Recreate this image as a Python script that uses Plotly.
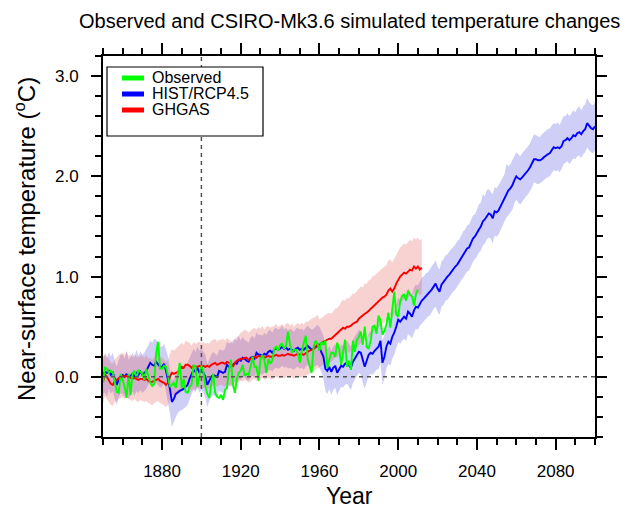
import plotly.graph_objects as go

# ---------------- data ----------------
years_hist = list(range(1850, 2101))   # HIST/RCP4.5
years_ghg = list(range(1850, 2013))    # GHGAS
years_obs = list(range(1850, 2011))    # Observed

series_names = ["Observed", "HIST/RCP4.5", "GHGAS"]

obs = [
    -0.06, 0.09, 0.08, 0.04, 0.06, 0.04, -0.05, -0.15, -0.16, 0.03,
    -0.03, -0.10, -0.21, 0.03, -0.18, 0.03, 0.06, -0.01, 0.07, 0.05,
    0.03, -0.03, 0.08, 0.01, -0.06, -0.09, -0.07, 0.24, 0.35, 0.08,
    0.08, 0.11, 0.10, 0.01, -0.10, -0.08, -0.06, -0.11, 0.00, 0.14,
    -0.11, -0.02, -0.15, -0.16, -0.10, -0.08, 0.12, 0.10, -0.10, 0.02,
    0.11, 0.05, -0.09, -0.17, -0.21, -0.07, 0.03, -0.16, -0.20, -0.21,
    -0.18, -0.23, -0.13, -0.11, 0.07, 0.17, -0.07, -0.16, -0.02, 0.04,
    0.06, 0.12, 0.01, 0.03, 0.02, 0.10, 0.20, 0.10, 0.10, -0.04,
    0.17, 0.22, 0.17, 0.04, 0.18, 0.13, 0.16, 0.28, 0.30, 0.26,
    0.32, 0.33, 0.28, 0.31, 0.45, 0.33, 0.24, 0.27, 0.27, 0.24,
    0.14, 0.26, 0.34, 0.41, 0.18, 0.12, 0.04, 0.30, 0.36, 0.33,
    0.26, 0.35, 0.32, 0.36, 0.09, 0.17, 0.24, 0.24, 0.20, 0.34,
    0.28, 0.12, 0.25, 0.37, 0.10, 0.16, 0.07, 0.36, 0.25, 0.37,
    0.40, 0.45, 0.32, 0.50, 0.30, 0.28, 0.36, 0.50, 0.51, 0.43,
    0.61, 0.56, 0.42, 0.46, 0.52, 0.64, 0.49, 0.70, 0.85, 0.62,
    0.60, 0.75, 0.81, 0.82, 0.76, 0.86, 0.82, 0.80, 0.71, 0.82,
    0.87,
]

hist_mean = [
    0.03, 0.05, 0.04, 0.06, 0.02, 0.04, -0.02, -0.08, -0.03, 0.01,
    0.02, 0.00, 0.03, -0.01, 0.01, 0.03, 0.00, 0.04, 0.02, 0.05,
    0.02, 0.04, 0.06, 0.10, 0.14, 0.12, 0.11, 0.15, 0.12, 0.10,
    0.10, 0.13, 0.06, -0.02, -0.12, -0.25, -0.22, -0.17, -0.15, -0.14,
    -0.13, -0.12, -0.10, -0.08, -0.02, 0.03, 0.07, 0.05, 0.09, 0.04,
    0.07, 0.04, 0.00, -0.08, -0.03, 0.00, 0.02, 0.01, 0.00, 0.06,
    0.05, 0.04, 0.05, 0.12, 0.10, 0.11, 0.12, 0.14, 0.13, 0.17,
    0.16, 0.19, 0.18, 0.16, 0.15, 0.19, 0.20, 0.18, 0.24, 0.22,
    0.22, 0.21, 0.23, 0.22, 0.25, 0.26, 0.24, 0.27, 0.28, 0.27,
    0.28, 0.30, 0.28, 0.29, 0.27, 0.28, 0.27, 0.26, 0.28, 0.29,
    0.27, 0.28, 0.27, 0.29, 0.31, 0.29, 0.27, 0.28, 0.30, 0.31,
    0.29, 0.25, 0.20, 0.08, 0.06, 0.10, 0.05, 0.09, 0.11, 0.04,
    0.07, 0.11, 0.10, 0.13, 0.14, 0.12, 0.09, 0.15, 0.18, 0.22,
    0.25, 0.24, 0.16, 0.10, 0.16, 0.22, 0.24, 0.23, 0.26, 0.28,
    0.30, 0.36, 0.14, 0.20, 0.30, 0.35, 0.33, 0.40, 0.44, 0.50,
    0.57, 0.55, 0.58, 0.60, 0.58, 0.65, 0.63, 0.60, 0.66, 0.70,
    0.69, 0.73, 0.76, 0.78, 0.80, 0.82, 0.84, 0.87, 0.90, 0.93,
    0.88, 0.85, 0.92, 0.95, 0.98, 1.00, 1.02, 1.05, 1.07, 1.10,
    1.12, 1.15, 1.18, 1.22, 1.25, 1.28, 1.29, 1.33, 1.38, 1.40,
    1.44, 1.47, 1.50, 1.55, 1.57, 1.60, 1.63, 1.62, 1.58, 1.65,
    1.64, 1.66, 1.70, 1.74, 1.78, 1.83, 1.86, 1.88, 1.91, 1.96,
    2.00, 1.98, 1.97, 1.99, 2.01, 2.03, 2.06, 2.09, 2.13, 2.17,
    2.17, 2.16, 2.16, 2.17, 2.19, 2.21, 2.22, 2.23, 2.26, 2.29,
    2.28, 2.29, 2.28, 2.30, 2.35, 2.36, 2.38, 2.36, 2.38, 2.41,
    2.40, 2.43, 2.44, 2.42, 2.45, 2.47, 2.53, 2.50, 2.48, 2.47,
    2.50,
]

hist_upper = [
    0.20, 0.22, 0.18, 0.25, 0.20, 0.24, 0.15, 0.10, 0.17, 0.22,
    0.22, 0.18, 0.26, 0.17, 0.20, 0.24, 0.19, 0.27, 0.21, 0.25,
    0.22, 0.24, 0.28, 0.31, 0.36, 0.34, 0.38, 0.37, 0.33, 0.30,
    0.30, 0.33, 0.27, 0.20, 0.08, -0.04, -0.02, 0.04, 0.05, 0.07,
    0.08, 0.10, 0.12, 0.14, 0.19, 0.24, 0.28, 0.25, 0.30, 0.26,
    0.28, 0.25, 0.22, 0.13, 0.18, 0.22, 0.25, 0.23, 0.21, 0.27,
    0.27, 0.26, 0.28, 0.35, 0.33, 0.34, 0.36, 0.38, 0.36, 0.41,
    0.36, 0.40, 0.37, 0.35, 0.34, 0.39, 0.41, 0.38, 0.44, 0.42,
    0.42, 0.41, 0.44, 0.42, 0.46, 0.47, 0.44, 0.48, 0.49, 0.47,
    0.48, 0.51, 0.47, 0.49, 0.46, 0.48, 0.47, 0.45, 0.48, 0.49,
    0.47, 0.48, 0.46, 0.49, 0.51, 0.49, 0.47, 0.48, 0.50, 0.52,
    0.50, 0.46, 0.41, 0.30, 0.27, 0.31, 0.26, 0.30, 0.33, 0.25,
    0.28, 0.32, 0.31, 0.35, 0.36, 0.33, 0.30, 0.37, 0.40, 0.44,
    0.47, 0.45, 0.37, 0.31, 0.37, 0.43, 0.46, 0.44, 0.48, 0.50,
    0.52, 0.58, 0.36, 0.42, 0.52, 0.57, 0.55, 0.62, 0.66, 0.72,
    0.79, 0.77, 0.81, 0.82, 0.80, 0.88, 0.85, 0.82, 0.89, 0.92,
    0.91, 0.95, 0.99, 1.00, 1.03, 1.04, 1.07, 1.09, 1.13, 1.16,
    1.10, 1.07, 1.15, 1.17, 1.21, 1.22, 1.25, 1.27, 1.30, 1.32,
    1.35, 1.37, 1.41, 1.45, 1.47, 1.51, 1.52, 1.56, 1.61, 1.62,
    1.67, 1.72, 1.74, 1.82, 1.80, 1.86, 1.87, 1.85, 1.82, 1.89,
    1.88, 1.91, 1.95, 1.98, 2.02, 2.12, 2.10, 2.12, 2.16, 2.20,
    2.24, 2.22, 2.20, 2.23, 2.25, 2.27, 2.30, 2.33, 2.37, 2.42,
    2.41, 2.40, 2.39, 2.42, 2.44, 2.45, 2.47, 2.48, 2.51, 2.53,
    2.52, 2.54, 2.51, 2.55, 2.60, 2.60, 2.63, 2.60, 2.63, 2.66,
    2.64, 2.68, 2.70, 2.66, 2.70, 2.72, 2.78, 2.74, 2.72, 2.71,
    2.74,
]

hist_lower = [
    -0.18, -0.15, -0.20, -0.12, -0.17, -0.14, -0.22, -0.28, -0.20, -0.16,
    -0.17, -0.20, -0.15, -0.22, -0.18, -0.15, -0.19, -0.14, -0.16, -0.13,
    -0.16, -0.14, -0.12, -0.08, -0.05, -0.08, -0.10, -0.06, -0.09, -0.11,
    -0.10, -0.06, -0.15, -0.24, -0.36, -0.50, -0.45, -0.40, -0.36, -0.34,
    -0.33, -0.32, -0.30, -0.28, -0.22, -0.17, -0.13, -0.15, -0.10, -0.16,
    -0.13, -0.16, -0.21, -0.30, -0.24, -0.20, -0.18, -0.19, -0.20, -0.14,
    -0.15, -0.16, -0.14, -0.08, -0.10, -0.09, -0.07, -0.05, -0.07, -0.03,
    -0.03, 0.00, -0.01, -0.03, -0.04, 0.00, 0.01, -0.01, 0.05, 0.03,
    0.03, 0.02, 0.04, 0.03, 0.06, 0.07, 0.05, 0.08, 0.09, 0.08,
    0.09, 0.11, 0.09, 0.10, 0.08, 0.09, 0.08, 0.07, 0.09, 0.10,
    0.08, 0.09, 0.07, 0.10, 0.12, 0.10, 0.08, 0.09, 0.11, 0.12,
    0.09, 0.05, -0.02, -0.14, -0.17, -0.12, -0.18, -0.13, -0.11, -0.18,
    -0.15, -0.10, -0.11, -0.08, -0.07, -0.10, -0.13, -0.06, -0.03, 0.01,
    0.04, 0.02, -0.06, -0.12, -0.05, 0.01, 0.03, 0.02, 0.05, 0.07,
    0.08, 0.14, -0.08, -0.02, 0.08, 0.13, 0.11, 0.18, 0.22, 0.28,
    0.35, 0.33, 0.36, 0.38, 0.36, 0.43, 0.41, 0.38, 0.44, 0.48,
    0.47, 0.51, 0.54, 0.55, 0.58, 0.60, 0.61, 0.65, 0.68, 0.70,
    0.65, 0.62, 0.70, 0.72, 0.76, 0.77, 0.80, 0.82, 0.85, 0.87,
    0.89, 0.92, 0.95, 0.99, 1.02, 1.05, 1.06, 1.10, 1.15, 1.17,
    1.20, 1.24, 1.26, 1.31, 1.33, 1.37, 1.39, 1.38, 1.33, 1.41,
    1.40, 1.42, 1.46, 1.50, 1.55, 1.59, 1.62, 1.64, 1.67, 1.73,
    1.77, 1.74, 1.72, 1.75, 1.77, 1.80, 1.82, 1.85, 1.89, 1.94,
    1.93, 1.92, 1.93, 1.94, 1.96, 1.98, 1.99, 2.00, 2.03, 2.06,
    2.05, 2.06, 2.04, 2.07, 2.12, 2.13, 2.15, 2.12, 2.15, 2.18,
    2.17, 2.20, 2.21, 2.18, 2.22, 2.24, 2.29, 2.26, 2.24, 2.23,
    2.26,
]

ghg_mean = [
    -0.05, 0.02, 0.00, -0.04, -0.07, -0.08, -0.04, -0.03, -0.01, 0.00,
    0.01, 0.00, 0.01, 0.00, -0.01, -0.02, -0.01, -0.02, -0.03, -0.02,
    -0.02, -0.03, -0.02, -0.04, -0.05, -0.05, -0.04, -0.03, -0.02, -0.04,
    -0.05, -0.06, -0.08, -0.06, 0.00, 0.04, 0.03, 0.04, 0.05, 0.07,
    0.10, 0.09, 0.12, 0.12, 0.11, 0.09, 0.11, 0.10, 0.10, 0.11,
    0.10, 0.11, 0.10, 0.11, 0.10, 0.12, 0.13, 0.14, 0.12, 0.13,
    0.14, 0.14, 0.13, 0.15, 0.14, 0.13, 0.10, 0.14, 0.16, 0.17,
    0.18, 0.18, 0.19, 0.19, 0.17, 0.18, 0.19, 0.20, 0.19, 0.21,
    0.20, 0.21, 0.19, 0.20, 0.21, 0.20, 0.20, 0.21, 0.22, 0.21,
    0.21, 0.22, 0.21, 0.22, 0.23, 0.22, 0.22, 0.21, 0.22, 0.23,
    0.22, 0.23, 0.22, 0.24, 0.25, 0.26, 0.27, 0.28, 0.30, 0.32,
    0.32, 0.34, 0.35, 0.36, 0.37, 0.38, 0.38, 0.40, 0.42, 0.43,
    0.45, 0.47, 0.49, 0.48, 0.50, 0.50, 0.51, 0.53, 0.54, 0.55,
    0.58, 0.60, 0.61, 0.63, 0.64, 0.66, 0.67, 0.70, 0.72, 0.73,
    0.76, 0.77, 0.79, 0.80, 0.82, 0.86, 0.88, 0.85, 0.88, 0.93,
    0.97, 1.00, 1.02, 1.04, 1.03, 1.05, 1.07, 1.06, 1.10, 1.08,
    1.10, 1.07, 1.09,
]

ghg_upper = [
    0.16, 0.24, 0.21, 0.18, 0.14, 0.13, 0.18, 0.19, 0.22, 0.23,
    0.24, 0.22, 0.25, 0.21, 0.22, 0.19, 0.23, 0.20, 0.19, 0.21,
    0.21, 0.19, 0.22, 0.18, 0.19, 0.17, 0.20, 0.22, 0.24, 0.20,
    0.19, 0.17, 0.15, 0.17, 0.23, 0.28, 0.26, 0.28, 0.29, 0.31,
    0.34, 0.32, 0.36, 0.35, 0.34, 0.31, 0.35, 0.33, 0.34, 0.35,
    0.33, 0.35, 0.33, 0.34, 0.33, 0.36, 0.37, 0.38, 0.35, 0.37,
    0.37, 0.38, 0.36, 0.39, 0.37, 0.36, 0.33, 0.38, 0.40, 0.41,
    0.44, 0.46, 0.47, 0.46, 0.44, 0.46, 0.48, 0.49, 0.47, 0.50,
    0.48, 0.51, 0.47, 0.50, 0.51, 0.49, 0.50, 0.51, 0.53, 0.50,
    0.51, 0.53, 0.50, 0.53, 0.54, 0.51, 0.53, 0.50, 0.52, 0.54,
    0.52, 0.54, 0.52, 0.55, 0.55, 0.57, 0.58, 0.59, 0.60, 0.62,
    0.57, 0.59, 0.60, 0.62, 0.63, 0.64, 0.63, 0.66, 0.68, 0.69,
    0.71, 0.75, 0.77, 0.76, 0.79, 0.78, 0.80, 0.83, 0.83, 0.85,
    0.87, 0.90, 0.89, 0.93, 0.93, 0.96, 0.97, 1.00, 1.01, 1.03,
    1.05, 1.07, 1.08, 1.10, 1.11, 1.16, 1.17, 1.14, 1.18, 1.22,
    1.26, 1.29, 1.31, 1.33, 1.32, 1.34, 1.37, 1.35, 1.39, 1.37,
    1.39, 1.36, 1.38,
]

ghg_lower = [
    -0.26, -0.19, -0.22, -0.25, -0.28, -0.29, -0.25, -0.24, -0.22, -0.21,
    -0.20, -0.22, -0.20, -0.22, -0.23, -0.24, -0.22, -0.24, -0.25, -0.23,
    -0.24, -0.25, -0.24, -0.26, -0.27, -0.28, -0.26, -0.25, -0.24, -0.26,
    -0.27, -0.28, -0.30, -0.28, -0.22, -0.18, -0.19, -0.18, -0.17, -0.15,
    -0.12, -0.13, -0.10, -0.11, -0.12, -0.14, -0.12, -0.13, -0.12, -0.11,
    -0.12, -0.11, -0.12, -0.11, -0.12, -0.10, -0.09, -0.08, -0.10, -0.09,
    -0.08, -0.09, -0.10, -0.07, -0.08, -0.09, -0.12, -0.08, -0.06, -0.05,
    -0.04, -0.05, -0.03, -0.04, -0.06, -0.05, -0.03, -0.02, -0.04, -0.01,
    -0.02, -0.01, -0.03, -0.02, -0.01, -0.02, -0.03, -0.01, 0.00, -0.01,
    -0.01, 0.00, -0.02, 0.00, 0.01, -0.01, 0.00, -0.02, -0.01, 0.01,
    -0.01, 0.00, -0.01, 0.01, 0.02, 0.03, 0.04, 0.05, 0.07, 0.09,
    0.09, 0.11, 0.12, 0.13, 0.14, 0.15, 0.15, 0.17, 0.19, 0.20,
    0.21, 0.22, 0.24, 0.23, 0.25, 0.24, 0.26, 0.27, 0.28, 0.29,
    0.32, 0.34, 0.35, 0.37, 0.38, 0.40, 0.41, 0.44, 0.46, 0.47,
    0.50, 0.51, 0.53, 0.54, 0.56, 0.60, 0.62, 0.59, 0.62, 0.67,
    0.71, 0.74, 0.76, 0.78, 0.77, 0.79, 0.81, 0.80, 0.84, 0.82,
    0.84, 0.81, 0.83,
]

x_ticks = [1880, 1920, 1960, 2000, 2040, 2080]
y_ticks = [0.0, 1.0, 2.0, 3.0]

# ---------------- layout geometry ----------------
W, H = 623, 516
PL, PR, PT, PB = 103, 595, 56, 437  # plot area in pixels
FONT = "Liberation Sans, Arial, Helvetica, sans-serif"


def px(xp):
    return (xp - PL) / (PR - PL)


def py(yp):
    return 1 - (yp - PT) / (PB - PT)


fig = go.Figure()

# bands
fig.add_trace(go.Scatter(
    x=years_hist + years_hist[::-1], y=hist_upper + hist_lower[::-1],
    fill="toself", fillcolor="rgba(60,60,220,0.25)", line=dict(width=0),
    mode="lines", hoverinfo="skip", showlegend=False))
fig.add_trace(go.Scatter(
    x=years_ghg + years_ghg[::-1], y=ghg_upper + ghg_lower[::-1],
    fill="toself", fillcolor="rgba(230,90,90,0.28)", line=dict(width=0),
    mode="lines", hoverinfo="skip", showlegend=False))

colors = {"Observed": "#00ff00", "HIST/RCP4.5": "#0000ff", "GHGAS": "#ff0000"}

fig.add_trace(go.Scatter(x=years_hist, y=hist_mean, mode="lines",
                         line=dict(color=colors["HIST/RCP4.5"], width=1.9),
                         name="HIST/RCP4.5", showlegend=False))
fig.add_trace(go.Scatter(x=years_ghg, y=ghg_mean, mode="lines",
                         line=dict(color=colors["GHGAS"], width=1.9),
                         name="GHGAS", showlegend=False))
fig.add_trace(go.Scatter(x=years_obs, y=obs, mode="lines",
                         line=dict(color=colors["Observed"], width=1.9),
                         name="Observed", showlegend=False))

shapes = []
# reference dashed lines
shapes.append(dict(type="line", xref="x", yref="y", x0=1850, x1=2100, y0=0, y1=0,
                   line=dict(color="#555555", width=1.5, dash="4px,4px"), layer="above"))
shapes.append(dict(type="line", xref="x", yref="paper", x0=1900, x1=1900, y0=0, y1=1,
                   line=dict(color="#555555", width=1.5, dash="4px,4px"), layer="above"))
# legend box
shapes.append(dict(type="rect", xref="paper", yref="paper",
                   x0=px(107), x1=px(263), y0=py(136), y1=py(67),
                   line=dict(color="black", width=1.2), fillcolor="white", layer="above"))

annotations = []
rows = [78, 94, 110]
for name, ry in zip(series_names, rows):
    shapes.append(dict(type="line", xref="paper", yref="paper",
                       x0=px(122), x1=px(144), y0=py(ry), y1=py(ry),
                       line=dict(color=colors[name], width=5), layer="above"))
    annotations.append(dict(xref="paper", yref="paper", x=px(150), y=py(ry),
                            text=name, showarrow=False, xanchor="left", yanchor="middle",
                            font=dict(family=FONT, size=16, color="black")))

# title and axis titles
annotations.append(dict(xref="paper", yref="paper", x=0.5, y=py(21),
                        text="Observed and CSIRO-Mk3.6 simulated temperature changes",
                        showarrow=False, xanchor="center", yanchor="middle",
                        font=dict(family=FONT, size=20, color="black")))
annotations.append(dict(xref="paper", yref="paper", x=0.5, y=py(496),
                        text="Year", showarrow=False, xanchor="center", yanchor="middle",
                        font=dict(family=FONT, size=23, color="black")))
annotations.append(dict(xref="paper", yref="paper", x=px(25), y=py(239),
                        text="Near-surface temperature (<sup>o</sup>C)", textangle=-90,
                        showarrow=False, xanchor="center", yanchor="middle",
                        font=dict(family=FONT, size=24, color="black")))

fig.update_layout(
    width=W, height=H, autosize=False,
    margin=dict(l=PL, r=W - PR, t=PT, b=H - PB, pad=0),
    paper_bgcolor="white", plot_bgcolor="white",
    font=dict(family=FONT, color="black"),
    showlegend=False,
    shapes=shapes, annotations=annotations,
)

fig.update_xaxes(
    range=[1850, 2100], tickmode="array", tickvals=x_ticks,
    ticktext=[str(v) for v in x_ticks],
    ticks="outside", ticklen=11, tickwidth=2, tickcolor="black",
    showline=True, linewidth=2, linecolor="black", mirror="ticks",
    showgrid=False, zeroline=False,
    tickfont=dict(family=FONT, size=17, color="black"),
    ticklabelstandoff=7,
    minor=dict(dtick=10, tick0=1850, ticks="outside", ticklen=6, tickwidth=2,
               tickcolor="black", showgrid=False),
)
fig.update_yaxes(
    range=[-0.6, 3.2], tickmode="array", tickvals=y_ticks,
    ticktext=["%.1f" % v for v in y_ticks],
    ticks="outside", ticklen=10, tickwidth=2, tickcolor="black",
    showline=True, linewidth=2, linecolor="black", mirror="ticks",
    showgrid=False, zeroline=False,
    tickfont=dict(family=FONT, size=17, color="black"),
    ticklabelstandoff=9,
    minor=dict(dtick=0.2, tick0=0, ticks="outside", ticklen=6, tickwidth=2,
               tickcolor="black", showgrid=False),
)

fig.write_html("out.html", config={"displayModeBar": False},
               post_script="document.body.style.margin='0px';")
